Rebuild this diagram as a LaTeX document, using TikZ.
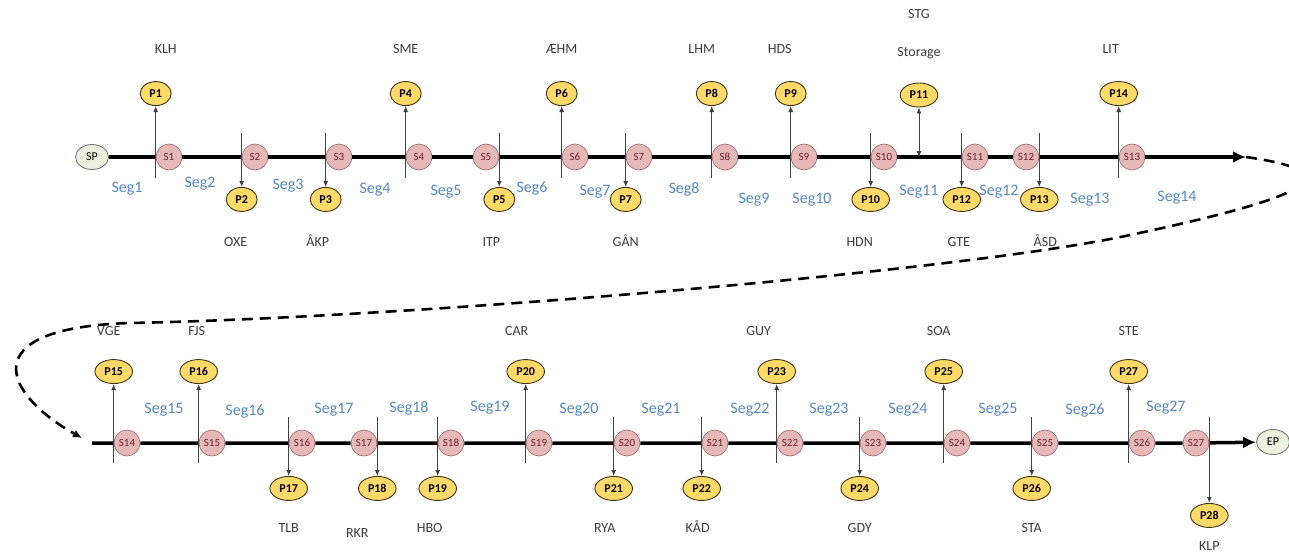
\documentclass[tikz,border=0pt]{standalone}
\usepackage{fontspec}
\setmainfont{Carlito}
\usepackage{xcolor}
\usetikzlibrary{arrows.meta, positioning, shapes.geometric}

\definecolor{segblue}{RGB}{84,136,196}
\definecolor{stopfill}{RGB}{230,185,184}
\definecolor{stopline}{RGB}{150,100,100}
\definecolor{stoptext}{RGB}{110,30,40}
\definecolor{pfill}{RGB}{255,218,105}
\definecolor{pline}{RGB}{60,50,20}
\definecolor{endfill}{RGB}{235,241,222}
\definecolor{endline}{RGB}{110,110,110}
\definecolor{namegray}{RGB}{60,60,60}

\begin{document}
\begin{tikzpicture}[
  x=1pt, y=-1pt,
  snode/.style = {ellipse, draw=stopline, fill=stopfill, line width=0.6pt, minimum width=26pt, minimum height=26pt, inner sep=0pt, text=stoptext, font=\fontsize{11}{11}\selectfont},
  pnode/.style = {ellipse, draw=pline, fill=pfill, line width=0.9pt, minimum width=31pt, minimum height=24pt, inner xsep=4pt, inner ysep=1pt, font=\fontsize{12}{12}\selectfont\bfseries},
  endnode/.style = {ellipse, draw=endline, fill=endfill, line width=0.8pt, minimum width=33pt, minimum height=25pt, inner sep=0pt, font=\fontsize{12}{12}\selectfont},
  sitename/.style = {inner sep=0pt, text height=10pt, text depth=1pt, text=namegray, font=\fontsize{14}{14}\selectfont},
  seglabel/.style = {inner sep=0pt, text=segblue, font=\fontsize{16}{16}\selectfont},
  track/.style = {line width=3.5pt, -{Latex[length=13pt, width=12pt]}},
  arrow/.style = {draw=black!75, line width=0.9pt, -{Latex[length=6pt, width=5pt]}},
  loopback/.style = {line width=2.6pt, dash pattern=on 11pt off 7pt, -{Latex[length=9pt, width=8pt]}}
]

\useasboundingbox (0,0) rectangle (1289,554);

% upper track
\node[endnode] (SP) at (92,157) {SP};
\node[snode] (S1) at (169,157) {S1};
\node[snode] (S2) at (255,157) {S2};
\node[snode] (S3) at (339,157) {S3};
\node[snode] (S4) at (419,157) {S4};
\node[snode] (S5) at (486,157) {S5};
\node[snode] (S6) at (575,157) {S6};
\node[snode] (S7) at (639,157) {S7};
\node[snode] (S8) at (725,157) {S8};
\node[snode] (S9) at (804,157) {S9};
\node[snode] (S10) at (884,157) {S10};
\node[snode] (S11) at (975,157) {S11};
\node[snode] (S12) at (1026,157) {S12};
\node[snode] (S13) at (1132,157) {S13};
\coordinate (topend) at (1246,157);

% lower track
\coordinate (botstart) at (92,443);
\coordinate (loopend) at (82,438);
\node[snode] (S14) at (127,443) {S14};
\node[snode] (S15) at (212,443) {S15};
\node[snode] (S16) at (302,443) {S16};
\node[snode] (S17) at (364,443) {S17};
\node[snode] (S18) at (451,443) {S18};
\node[snode] (S19) at (539,443) {S19};
\node[snode] (S20) at (627,443) {S20};
\node[snode] (S21) at (715,443) {S21};
\node[snode] (S22) at (790,443) {S22};
\node[snode] (S23) at (873,443) {S23};
\node[snode] (S24) at (957,443) {S24};
\node[snode] (S25) at (1045,443) {S25};
\node[snode] (S26) at (1142,443) {S26};
\node[snode] (S27) at (1196,443) {S27};
\node[endnode] (EP) at (1273,442) {EP};

% points on the upper track
\node[pnode, above=51pt of S1.west] (P1) {P1};
\node[pnode, below=30pt of S2.west] (P2) {P2};
\node[pnode, below=30pt of S3.west] (P3) {P3};
\node[pnode, above=51pt of S4.west] (P4) {P4};
\node[pnode, below=30pt of S5.east] (P5) {P5};
\node[pnode, above=51pt of S6.west] (P6) {P6};
\node[pnode, below=30pt of S7.west] (P7) {P7};
\node[pnode, above=51pt of S8.west] (P8) {P8};
\node[pnode, above=51pt of S9.west] (P9) {P9};
\node[pnode, below=30pt of S10.west] (P10) {P10};
\node[pnode] (P11) at (919,95) {P11};
\coordinate (stg) at (P11 |- S10);
\node[pnode, below=30pt of S11.west] (P12) {P12};
\node[pnode, below=30pt of S12.east] (P13) {P13};
\node[pnode, above=51pt of S13.west] (P14) {P14};

% points on the lower track
\node[pnode, above=59pt of S14.west] (P15) {P15};
\node[pnode, above=59pt of S15.west] (P16) {P16};
\node[pnode, below=33pt of S16.west] (P17) {P17};
\node[pnode, below=33pt of S17.east] (P18) {P18};
\node[pnode, below=33pt of S18.west] (P19) {P19};
\node[pnode, above=59pt of S19.west] (P20) {P20};
\node[pnode, below=33pt of S20.west] (P21) {P21};
\node[pnode, below=33pt of S21.west] (P22) {P22};
\node[pnode, above=59pt of S22.west] (P23) {P23};
\node[pnode, below=33pt of S23.west] (P24) {P24};
\node[pnode, above=59pt of S24.west] (P25) {P25};
\node[pnode, below=33pt of S25.west] (P26) {P26};
\node[pnode, above=59pt of S26.west] (P27) {P27};
\node[pnode, below=60pt of S27.east] (P28) {P28};

% site names
\node[sitename, above=26pt of P1, xshift=10pt] (t1) {KLH};
\node[sitename, below=24pt of P2, xshift=-6pt] (t2) {OXE};
\node[sitename, below=24pt of P3, xshift=-8pt] (t3) {ÅKP};
\node[sitename, above=26pt of P4] (t4) {SME};
\node[sitename, below=24pt of P5, xshift=-8pt] (t5) {ITP};
\node[sitename, above=26pt of P6] (t6) {ÆHM};
\node[sitename, below=24pt of P7] (t7) {GÅN};
\node[sitename, above=26pt of P8, xshift=-10pt] (t8) {LHM};
\node[sitename, above=26pt of P9, xshift=-11pt] (t9) {HDS};
\node[sitename, below=24pt of P10, xshift=-11pt] (t10) {HDN};
\node[sitename, above=25pt of P11] (t11) {Storage};
\node[sitename, above=26pt of t11] (t11b) {STG};
\node[sitename, below=24pt of P12, xshift=-3pt] (t12) {GTE};
\node[sitename, below=24pt of P13, xshift=6pt] (t13) {ÅSD};
\node[sitename, above=26pt of P14, xshift=-8pt] (t14) {LIT};
\node[sitename, above=22pt of P15, xshift=-5pt] (t15) {VGE};
\node[sitename, above=22pt of P16, xshift=-2pt] (t16) {FJS};
\node[sitename, below=21pt of P17] (t17) {TLB};
\node[sitename, below=26pt of P18, xshift=-20pt] (t18) {RKR};
\node[sitename, below=21pt of P19, xshift=-8pt] (t19) {HBO};
\node[sitename, above=22pt of P20, xshift=-9pt] (t20) {CAR};
\node[sitename, below=21pt of P21, xshift=-9pt] (t21) {RYA};
\node[sitename, below=21pt of P22, xshift=-4pt] (t22) {KÅD};
\node[sitename, above=22pt of P23, xshift=-18pt] (t23) {GUY};
\node[sitename, below=21pt of P24] (t24) {GDY};
\node[sitename, above=22pt of P25, xshift=-5pt] (t25) {SOA};
\node[sitename, below=21pt of P26] (t26) {STA};
\node[sitename, above=22pt of P27] (t27) {STE};
\node[sitename, below=12pt of P28] (t28) {KLP};

% segment labels
\node[seglabel] (g1) at (127,189) {Seg1};
\node[seglabel] (g2) at (200,184) {Seg2};
\node[seglabel] (g3) at (288,186) {Seg3};
\node[seglabel] (g4) at (375,190) {Seg4};
\node[seglabel] (g5) at (446,192) {Seg5};
\node[seglabel] (g6) at (532,188) {Seg6};
\node[seglabel] (g7) at (595,192) {Seg7};
\node[seglabel] (g8) at (684,189) {Seg8};
\node[seglabel] (g9) at (754,200) {Seg9};
\node[seglabel] (g10) at (812,200) {Seg10};
\node[seglabel] (g11) at (919,192) {Seg11};
\node[seglabel] (g12) at (999,192) {Seg12};
\node[seglabel] (g13) at (1090,200) {Seg13};
\node[seglabel] (g14) at (1177,198) {Seg14};
\node[seglabel] (g15) at (164,410) {Seg15};
\node[seglabel] (g16) at (245,411) {Seg16};
\node[seglabel] (g17) at (334,410) {Seg17};
\node[seglabel] (g18) at (409,408) {Seg18};
\node[seglabel] (g19) at (490,408) {Seg19};
\node[seglabel] (g20) at (579,410) {Seg20};
\node[seglabel] (g21) at (661,410) {Seg21};
\node[seglabel] (g22) at (750,410) {Seg22};
\node[seglabel] (g23) at (829,410) {Seg23};
\node[seglabel] (g24) at (908,410) {Seg24};
\node[seglabel] (g25) at (998,410) {Seg25};
\node[seglabel] (g26) at (1085,410) {Seg26};
\node[seglabel] (g27) at (1166,408) {Seg27};

% tracks
\draw[track] (SP) -- (S1) -- (S2) -- (S3) -- (S4) -- (S5) -- (S6) -- (S7) -- (S8) -- (S9) -- (S10) -- (S11) -- (S12) -- (S13) -- (topend);
\draw[track] (botstart) -- (S14) -- (S15) -- (S16) -- (S17) -- (S18) -- (S19) -- (S20) -- (S21) -- (S22) -- (S23) -- (S24) -- (S25) -- (S26) -- (S27) -- (EP);
\draw[loopback] (topend) .. controls (1350,172) and (1320,195) .. (1130,235) .. controls (960,272) and (400,318) .. (130,323) .. controls (-30,328) and (5,395) .. (loopend);

% feeders
\draw[arrow] ([yshift=-21pt]S1.west) -- (P1);
\draw[arrow] ([yshift=24pt]S2.west) -- (P2);
\draw[arrow] ([yshift=24pt]S3.west) -- (P3);
\draw[arrow] ([yshift=-21pt]S4.west) -- (P4);
\draw[arrow] ([yshift=24pt]S5.east) -- (P5);
\draw[arrow] ([yshift=-21pt]S6.west) -- (P6);
\draw[arrow] ([yshift=24pt]S7.west) -- (P7);
\draw[arrow] ([yshift=-21pt]S8.west) -- (P8);
\draw[arrow] ([yshift=-21pt]S9.west) -- (P9);
\draw[arrow] ([yshift=24pt]S10.west) -- (P10);
\draw[arrow, {Latex[length=6pt, width=5pt]}-{Latex[length=6pt, width=5pt]}] (stg) -- (P11);
\draw[arrow] ([yshift=24pt]S11.west) -- (P12);
\draw[arrow] ([yshift=24pt]S12.east) -- (P13);
\draw[arrow] ([yshift=-21pt]S13.west) -- (P14);
\draw[arrow] ([yshift=-20pt]S14.west) -- (P15);
\draw[arrow] ([yshift=-20pt]S15.west) -- (P16);
\draw[arrow] ([yshift=26pt]S16.west) -- (P17);
\draw[arrow] ([yshift=26pt]S17.east) -- (P18);
\draw[arrow] ([yshift=26pt]S18.west) -- (P19);
\draw[arrow] ([yshift=-20pt]S19.west) -- (P20);
\draw[arrow] ([yshift=26pt]S20.west) -- (P21);
\draw[arrow] ([yshift=26pt]S21.west) -- (P22);
\draw[arrow] ([yshift=-20pt]S22.west) -- (P23);
\draw[arrow] ([yshift=26pt]S23.west) -- (P24);
\draw[arrow] ([yshift=-20pt]S24.west) -- (P25);
\draw[arrow] ([yshift=26pt]S25.west) -- (P26);
\draw[arrow] ([yshift=-20pt]S26.west) -- (P27);
\draw[arrow] ([yshift=26pt]S27.east) -- (P28);

\end{tikzpicture}
\end{document}
